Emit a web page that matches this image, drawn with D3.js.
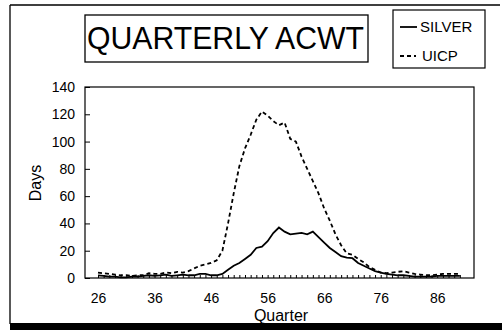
<!doctype html>
<html>
  <head>
    <script src="https://d3js.org/d3.v7.min.js"></script>
    <style>
      body { margin: 0; background: #fff; }
      text { font-family: "Liberation Sans", Arial, sans-serif; fill: #000; }
    </style>
  </head>
  <body>
    <svg id="chart" width="502" height="330"></svg>

    <script>
      // quarters 26..90
      var quarters = d3.range(26, 91);
      var silver = [2, 1.5, 1, 1, 0.5, 0.5, 1, 1, 1.5, 2,
                    1.5, 2, 2.5, 1.5, 2, 2.5, 2, 2, 3, 3,
                    2, 2, 3, 6, 9, 11, 14, 17, 22, 23,
                    27, 33, 37, 34, 32, 32.5, 33, 32, 34, 30,
                    26, 22, 19, 16, 15, 14.5, 11, 9, 7, 5,
                    4, 3, 2.5, 2, 2, 1.5, 1, 1, 1, 1,
                    1.5, 1.5, 1.5, 1.5, 1.5];
      var uicp = [4, 3.5, 3, 2.5, 2, 2, 1.5, 2, 2, 3.5,
                  3, 3, 4, 3.5, 4.5, 4, 5, 7, 9, 10,
                  11, 13, 20, 40, 62, 82, 95, 105, 116, 122,
                  119, 115, 112, 114, 102, 100, 89, 80, 71, 62,
                  51, 42, 32, 24, 18, 17, 14, 11.5, 8, 6,
                  4, 3.5, 4, 4.5, 5, 4, 3, 2.5, 2, 2,
                  2.5, 3, 3, 3, 3];
      var yTicks = [0, 20, 40, 60, 80, 100, 120, 140];
      var xTicks = [26, 36, 46, 56, 66, 76, 86];

      var svg = d3.select("#chart");

      // outer frame (scanned page look)
      svg.append("path")
        .attr("d", "M10,5 H500 M10,5 V324")
        .attr("stroke", "#000").attr("stroke-width", 1.3).attr("fill", "none");
      svg.append("rect")
        .attr("x", 10).attr("y", 323).attr("width", 492).attr("height", 7)
        .attr("fill", "#000");

      var x = d3.scaleLinear().domain([23.7, 92.5]).range([85, 474]);
      var y = d3.scaleLinear().domain([0, 140]).range([278, 87]);

      // plot box
      svg.append("rect")
        .attr("x", 85).attr("y", 87).attr("width", 389).attr("height", 191)
        .attr("fill", "none").attr("stroke", "#000").attr("stroke-width", 1.2);

      var yAxis = svg.append("g")
        .attr("transform", "translate(85,0)")
        .call(d3.axisLeft(y).tickValues(yTicks).tickSize(-5).tickPadding(10));
      yAxis.select(".domain").remove();
      yAxis.selectAll("text").style("font-size", "14px");

      var xAxis = svg.append("g")
        .attr("transform", "translate(0,278)")
        .call(d3.axisBottom(x).tickValues(xTicks).tickSize(0).tickPadding(15));
      xAxis.select(".domain").remove();
      xAxis.selectAll("text").style("font-size", "14px");

      // small tick per quarter
      var minor = svg.append("g")
        .attr("transform", "translate(0,278)")
        .call(d3.axisBottom(x).tickValues(quarters).tickSize(-3).tickFormat(""));
      minor.select(".domain").remove();

      var line = d3.line()
        .x(function(d, i) { return x(quarters[i]); })
        .y(function(d) { return y(d); });

      svg.append("path")
        .datum(uicp)
        .attr("d", line)
        .attr("fill", "none").attr("stroke", "#000")
        .attr("stroke-width", 1.8).attr("stroke-dasharray", "4,3");

      svg.append("path")
        .datum(silver)
        .attr("d", line)
        .attr("fill", "none").attr("stroke", "#000")
        .attr("stroke-width", 1.8);

      // axis titles
      svg.append("text")
        .attr("x", 281).attr("y", 321)
        .attr("text-anchor", "middle")
        .style("font-size", "16px")
        .text("Quarter");
      svg.append("text")
        .attr("transform", "translate(41,183) rotate(-90)")
        .attr("text-anchor", "middle")
        .style("font-size", "16px")
        .text("Days");

      // title box
      svg.append("rect")
        .attr("x", 85).attr("y", 15).attr("width", 283).attr("height", 47)
        .attr("fill", "none").attr("stroke", "#000").attr("stroke-width", 1.3);
      svg.append("text")
        .attr("x", 87).attr("y", 49)
        .attr("textLength", 277).attr("lengthAdjust", "spacingAndGlyphs")
        .style("font-size", "32px")
        .text("QUARTERLY ACWT");

      // legend
      svg.append("rect")
        .attr("x", 393).attr("y", 10).attr("width", 92).attr("height", 58)
        .attr("fill", "none").attr("stroke", "#000").attr("stroke-width", 1.2);
      svg.append("line")
        .attr("x1", 400).attr("x2", 417).attr("y1", 27).attr("y2", 27)
        .attr("stroke", "#000").attr("stroke-width", 1.8);
      svg.append("text")
        .attr("x", 420).attr("y", 32)
        .style("font-size", "15px")
        .text("SILVER");
      svg.append("line")
        .attr("x1", 400).attr("x2", 416).attr("y1", 56).attr("y2", 56)
        .attr("stroke", "#000").attr("stroke-width", 1.8)
        .attr("stroke-dasharray", "4,3");
      svg.append("text")
        .attr("x", 422).attr("y", 61)
        .style("font-size", "15px")
        .text("UICP");
    </script>
  </body>
</html>
